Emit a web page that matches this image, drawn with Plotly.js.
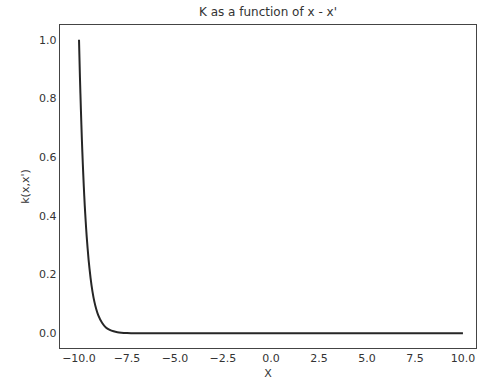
<!DOCTYPE html>
<html>
<head>
<meta charset="utf-8">
<script src="https://cdn.plot.ly/plotly-3.0.1.min.js"></script>
<style>html,body{margin:0;padding:0;background:#fff;}#chart{width:481px;height:382px;}</style>
</head>
<body>
<div id="chart"></div>
<script>
// Values
const xValues = [-10.0, -9.95, -9.9, -9.85, -9.8, -9.75, -9.7, -9.65, -9.6, -9.5, -9.4, -9.3, -9.2, -9.1, -9.0, -8.8, -8.6, -8.4, -8.2, -8.0, -7.5, -7.0, -5.0, -2.5, 0.0, 2.5, 5.0, 7.5, 10.0];
const kValues = [1.0, 0.87, 0.76, 0.66, 0.575, 0.50, 0.435, 0.38, 0.33, 0.25, 0.19, 0.143, 0.108, 0.082, 0.062, 0.036, 0.020, 0.012, 0.007, 0.004, 0.001, 0.0, 0.0, 0.0, 0.0, 0.0, 0.0, 0.0, 0.0];
const titleText = "K as a function of x - x'";
const xLabel = "X";
const yLabel = "k(x,x')";

const textColor = '#333333';
const trace = {
  x: xValues, y: kValues, type: 'scatter', mode: 'lines',
  line: {color: '#262626', width: 2, shape: 'spline', smoothing: 0.6},
  hoverinfo: 'skip'
};
const layout = {
  width: 481, height: 382,
  margin: {l: 60, r: 5, t: 25, b: 34},
  paper_bgcolor: '#fff', plot_bgcolor: '#fff',
  showlegend: false,
  font: {family: 'DejaVu Sans, sans-serif', size: 11, color: textColor},
  title: {text: titleText, x: 0.5, xanchor: 'center', xref: 'paper', y: 0.968, yref: 'container', yanchor: 'middle',
          font: {size: 12, color: textColor}},
  xaxis: {
    range: [-10.99, 10.68], tick0: 0, dtick: 2.5, tickformat: '.1f',
    showgrid: false, zeroline: false, ticks: '',
    showline: true, mirror: true, linecolor: '#444444', linewidth: 1.25,
    tickfont: {size: 11, color: textColor},
    title: {text: xLabel, standoff: 4, font: {size: 11, color: textColor}}
  },
  yaxis: {
    range: [-0.05, 1.05], tick0: 0, dtick: 0.2, tickformat: '.1f',
    showgrid: false, zeroline: false, ticks: '',
    showline: true, mirror: true, linecolor: '#444444', linewidth: 1.25,
    tickfont: {size: 11, color: textColor},
    title: {text: yLabel, standoff: 7, font: {size: 11, color: textColor}}
  }
};
Plotly.newPlot('chart', [trace], layout, {staticPlot: true, displayModeBar: false});
</script>
</body>
</html>
